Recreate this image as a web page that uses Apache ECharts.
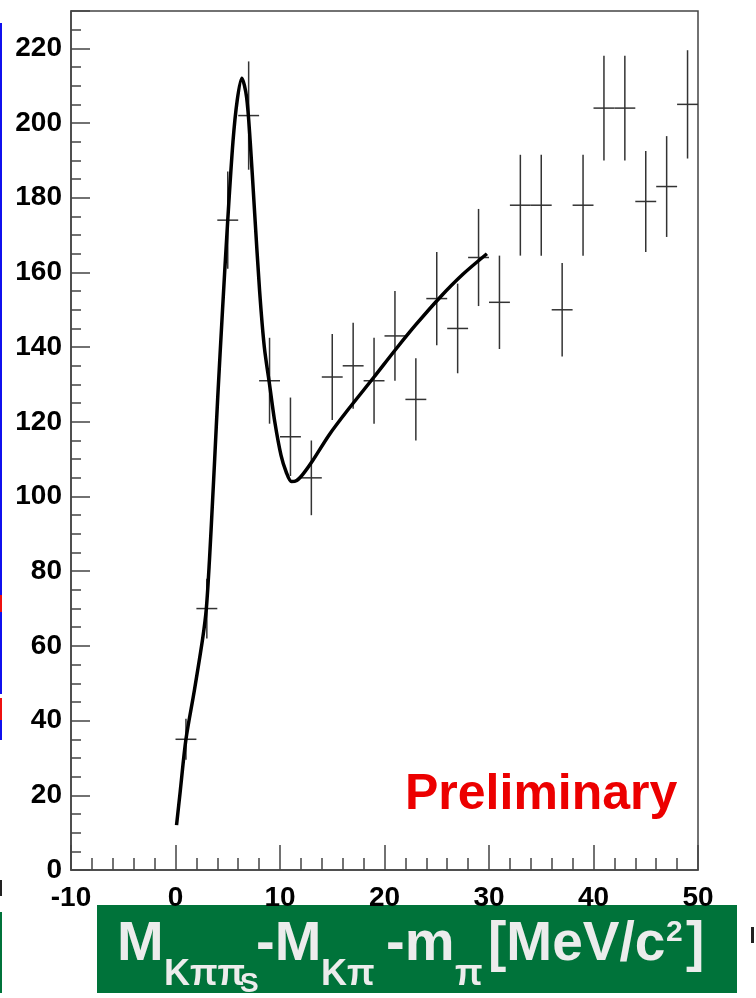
<!DOCTYPE html>
<html>
<head>
<meta charset="utf-8">
<script src="https://cdn.jsdelivr.net/npm/echarts@6/dist/echarts.min.js"></script>
<style>
  html, body { margin: 0; padding: 0; background: #fff; }
  #chart { width: 756px; height: 998px; }
</style>
</head>
<body>
<div id="chart"></div>
<script>
// histogram bins (bin centres, counts, errors)
const binX = [1, 3, 5, 7, 9, 11, 13, 15, 17, 19, 21, 23, 25, 27, 29, 31, 33, 35, 37, 39, 41, 43, 45, 47, 49];
const counts = [35, 70, 174, 202, 131, 116, 105, 132, 135, 131, 143, 126, 153, 145, 164, 152, 178, 178, 150, 178, 204, 204, 179, 183, 205];
const errs = [5.5, 8, 13, 14.5, 11.5, 10.5, 10, 11.5, 11.5, 11.5, 12, 11, 12.5, 12, 13, 12.5, 13.5, 13.5, 12.5, 13.5, 14, 14, 13.5, 13.5, 14.5];
const halfBin = 1;

// fit curve
const fitX = [0.1, 0.45, 1.0, 1.8, 2.6, 2.95, 3.25, 3.55, 3.75, 4.05, 4.5, 5.0, 5.5, 5.9, 6.35, 6.8, 7.15, 7.55, 8.05, 8.5, 9.0, 9.5, 10.1, 10.6, 11.1, 11.6, 12.2, 13.1, 14.7, 16.3, 19.0, 21.1, 23.0, 25.3, 27.5, 29.8];
const fitY = [12, 21, 35, 48, 62, 70, 83, 99, 110, 127, 150, 174, 195, 206, 212, 207, 195, 177, 155, 140, 130, 120, 111, 106.5, 104, 104.3, 106, 109.5, 116.5, 122.5, 132, 139.5, 146, 153.3, 159.5, 165];

const chart = echarts.init(document.getElementById('chart'));
const font = '"Liberation Sans", Arial, Helvetica, sans-serif';
const axisColor = '#444';

function errorBar(params, api) {
  const x = api.value(0), y = api.value(1), e = api.value(2);
  const top = api.coord([x, y + e]);
  const bot = api.coord([x, y - e]);
  const l = api.coord([x - halfBin, y]);
  const r = api.coord([x + halfBin, y]);
  const st = { stroke: '#333', lineWidth: 1.5 };
  return {
    type: 'group',
    children: [
      { type: 'line', shape: { x1: top[0], y1: top[1], x2: bot[0], y2: bot[1] }, style: st },
      { type: 'line', shape: { x1: l[0], y1: l[1], x2: r[0], y2: r[1] }, style: st }
    ]
  };
}

function txt(text, x, y, size, color) {
  return {
    type: 'text', x: x, y: y, silent: true,
    style: { text: text, font: 'bold ' + size + 'px ' + font, fill: color, verticalAlign: 'middle', align: 'left' }
  };
}
const lab = '#ececec';

chart.setOption({
  animation: false,
  backgroundColor: '#fff',
  grid: { left: 71, right: 58, top: 11, bottom: 128, show: true, borderColor: axisColor, borderWidth: 1.5 },
  xAxis: {
    type: 'value', min: -10, max: 50, interval: 10,
    splitLine: { show: false },
    axisLine: { show: true, onZero: false, lineStyle: { color: axisColor, width: 1.5 } },
    axisTick: { inside: true, length: 25, lineStyle: { color: axisColor, width: 1.5 } },
    minorTick: { show: true, splitNumber: 5, length: 12, lineStyle: { color: axisColor, width: 1.5 } },
    axisLabel: { margin: 14, color: '#000', fontSize: 28, fontWeight: 'bold', fontFamily: font }
  },
  yAxis: {
    type: 'value', min: 0, max: 230, interval: 20,
    splitLine: { show: false },
    axisLine: { show: true, onZero: false, lineStyle: { color: axisColor, width: 1.5 } },
    axisTick: { inside: true, length: 19, lineStyle: { color: axisColor, width: 1.5 } },
    minorTick: { show: true, splitNumber: 4, length: 10, lineStyle: { color: axisColor, width: 1.5 } },
    axisLabel: { margin: 9, color: '#000', fontSize: 28, fontWeight: 'bold', fontFamily: font, showMaxLabel: false }
  },
  series: [
    {
      type: 'custom',
      renderItem: errorBar,
      encode: { x: 0, y: 1 },
      data: binX.map((x, i) => [x, counts[i], errs[i]]),
      clip: false
    },
    {
      type: 'line',
      data: fitX.map((x, i) => [x, fitY[i]]),
      smooth: 0.3,
      showSymbol: false,
      lineStyle: { color: '#000', width: 3.5 }
    }
  ],
  graphic: [
    txt('Preliminary', 405, 795, 50, '#ec0000'),
    { type: 'rect', shape: { x: 97, y: 905, width: 640, height: 88 }, style: { fill: '#00733a' }, silent: true },
    txt('M', 117, 945, 56, lab),
    txt('K\u03c0\u03c0', 164, 975, 36, lab),
    txt('S', 240, 984, 28, lab),
    txt('-M', 256, 945, 56, lab),
    txt('K\u03c0', 321, 975, 36, lab),
    txt('-m', 386, 945, 56, lab),
    txt('\u03c0', 455, 975, 36, lab),
    txt('[MeV/c', 488, 945, 55, lab),
    txt('2', 666, 933, 30, lab),
    txt(']', 686, 945, 55, lab),
    // cropped edges of the neighbouring slide
    { type: 'rect', shape: { x: 0, y: 23, width: 2, height: 572 }, style: { fill: '#1010ee' }, silent: true },
    { type: 'rect', shape: { x: 0, y: 595, width: 2, height: 17 }, style: { fill: '#ee1010' }, silent: true },
    { type: 'rect', shape: { x: 0, y: 612, width: 2, height: 82 }, style: { fill: '#1010ee' }, silent: true },
    { type: 'rect', shape: { x: 0, y: 698, width: 2, height: 22 }, style: { fill: '#ee1010' }, silent: true },
    { type: 'rect', shape: { x: 0, y: 720, width: 2, height: 20 }, style: { fill: '#1010ee' }, silent: true },
    { type: 'rect', shape: { x: 0, y: 880, width: 2, height: 16 }, style: { fill: '#222' }, silent: true },
    { type: 'rect', shape: { x: 0, y: 912, width: 2, height: 81 }, style: { fill: '#00733a' }, silent: true },
    { type: 'rect', shape: { x: 751, y: 927, width: 3, height: 16 }, style: { fill: '#222' }, silent: true }
  ]
});
</script>
</body>
</html>
